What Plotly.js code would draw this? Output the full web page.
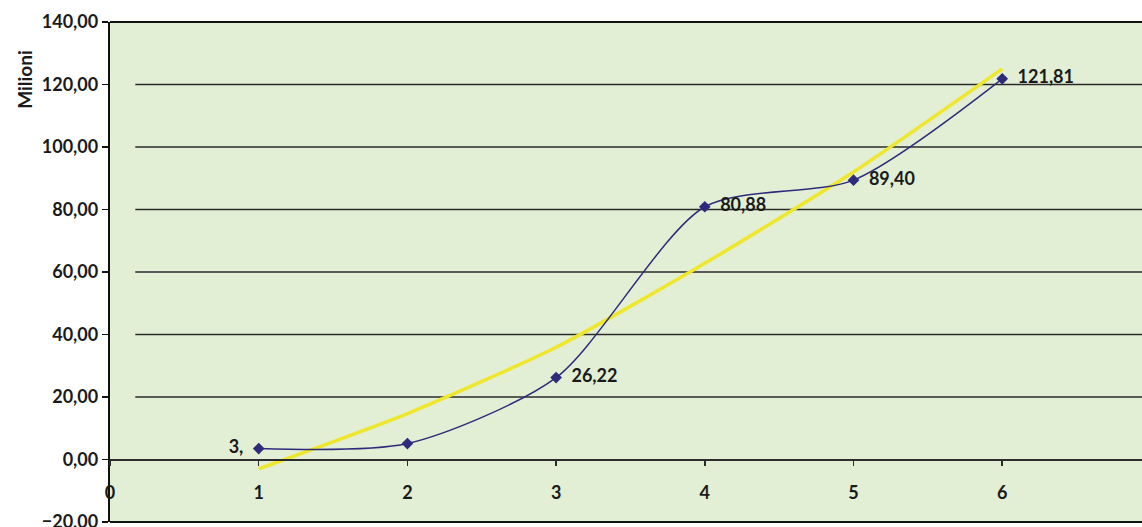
<!DOCTYPE html>
<html>
<head>
<meta charset="utf-8">
<script src="https://cdn.plot.ly/plotly-3.0.1.min.js"></script>
<style>
  html, body { margin: 0; padding: 0; background: #ffffff; }
  #chart { width: 1142px; height: 527px; }
</style>
</head>
<body>
<div id="chart"></div>
<script>
// ---- data ----
var xValues = [1, 2, 3, 4, 5, 6];
var seriesValues = [3.5, 5.1, 26.22, 80.88, 89.40, 121.81];
var pointLabels = ["3,", "", "26,22", "80,88", "89,40", "121,81"];
var labelSides = ["middle left", "middle right", "middle right", "middle right", "middle right", "middle right"];
var trendValues = [-3.0, 14.7, 35.9, 62.8, 92.0, 125.0];
var yTicks = [-20, 0, 20, 40, 60, 80, 100, 120, 140];
var xTicks = [0, 1, 2, 3, 4, 5, 6];
var yTitle = "Milioni";

var yRange = [-20, 140];
var xRange = [0, 6.94];

var fontFamily = "Lato, 'Liberation Sans', sans-serif";
var tickFont = { family: fontFamily, size: 18, color: "#1a1a1a", weight: 700 };

var paddedLabels = pointLabels.map(function (s, i) {
  if (!s) return s;
  return labelSides[i] === "middle left" ? s + "\u00a0\u00a0" : "\u00a0\u00a0" + s;
});

var traces = [
  {
    x: xValues, y: trendValues,
    type: "scatter", mode: "lines",
    line: { color: "#efe72c", width: 3.5, shape: "spline", smoothing: 0.6 },
    hoverinfo: "skip", showlegend: false
  },
  {
    x: xValues, y: seriesValues,
    type: "scatter", mode: "lines+markers+text",
    line: { color: "#2e2c7a", width: 1.5, shape: "spline", smoothing: 0.75 },
    marker: { symbol: "diamond", size: 9, color: "#2e2c7a" },
    text: paddedLabels, textposition: labelSides,
    textfont: { family: fontFamily, size: 18, color: "#1a1a1a", weight: 700 },
    hoverinfo: "skip", showlegend: false, cliponaxis: false
  }
];

var shapes = [];
yTicks.forEach(function (v) {
  if (v === 0) return;
  shapes.push({ type: "line", xref: "x", yref: "y", x0: 0.17, x1: xRange[1] + 1, y0: v, y1: v,
    line: { color: "#2b2b2b", width: 1.6 }, layer: "below" });
});
// plot frame (top and bottom borders)
shapes.push({ type: "line", xref: "paper", yref: "paper", x0: 0, x1: 1, y0: 1, y1: 1, line: { color: "#111", width: 2.2 } });
shapes.push({ type: "line", xref: "paper", yref: "paper", x0: 0, x1: 1, y0: 0, y1: 0, line: { color: "#111", width: 2.2 } });

var zeroPos = (0 - yRange[0]) / (yRange[1] - yRange[0]);

var layout = {
  width: 1142, height: 527,
  margin: { l: 110, r: 0, t: 22, b: 5, pad: 0 },
  paper_bgcolor: "#ffffff",
  plot_bgcolor: "#e2efd5",
  separators: ",.",
  showlegend: false,
  xaxis: {
    range: xRange, anchor: "free", position: zeroPos,
    tickvals: xTicks, ticktext: xTicks.map(String),
    showgrid: false, zeroline: false,
    showline: true, linecolor: "#2b2b2b", linewidth: 2,
    ticks: "outside", ticklen: 5, tickwidth: 1.5, tickcolor: "#2b2b2b",
    ticklabelstandoff: 12,
    tickfont: tickFont
  },
  yaxis: {
    range: yRange, tickvals: yTicks, tickformat: ".2f",
    showgrid: false, zeroline: false,
    showline: true, linecolor: "#111", linewidth: 2.2,
    ticks: "outside", ticklen: 6, tickwidth: 1.5, tickcolor: "#111",
    ticklabeloverflow: "allow",
    tickfont: tickFont
  },
  shapes: shapes,
  annotations: [
    { text: yTitle, xref: "paper", yref: "paper", x: -0.083, y: 0.885, textangle: -90,
      showarrow: false, xanchor: "center", yanchor: "middle",
      font: { family: fontFamily, size: 19, color: "#1a1a1a", weight: 700 } }
  ]
};

Plotly.newPlot("chart", traces, layout, { staticPlot: true, displayModeBar: false });
</script>
</body>
</html>
